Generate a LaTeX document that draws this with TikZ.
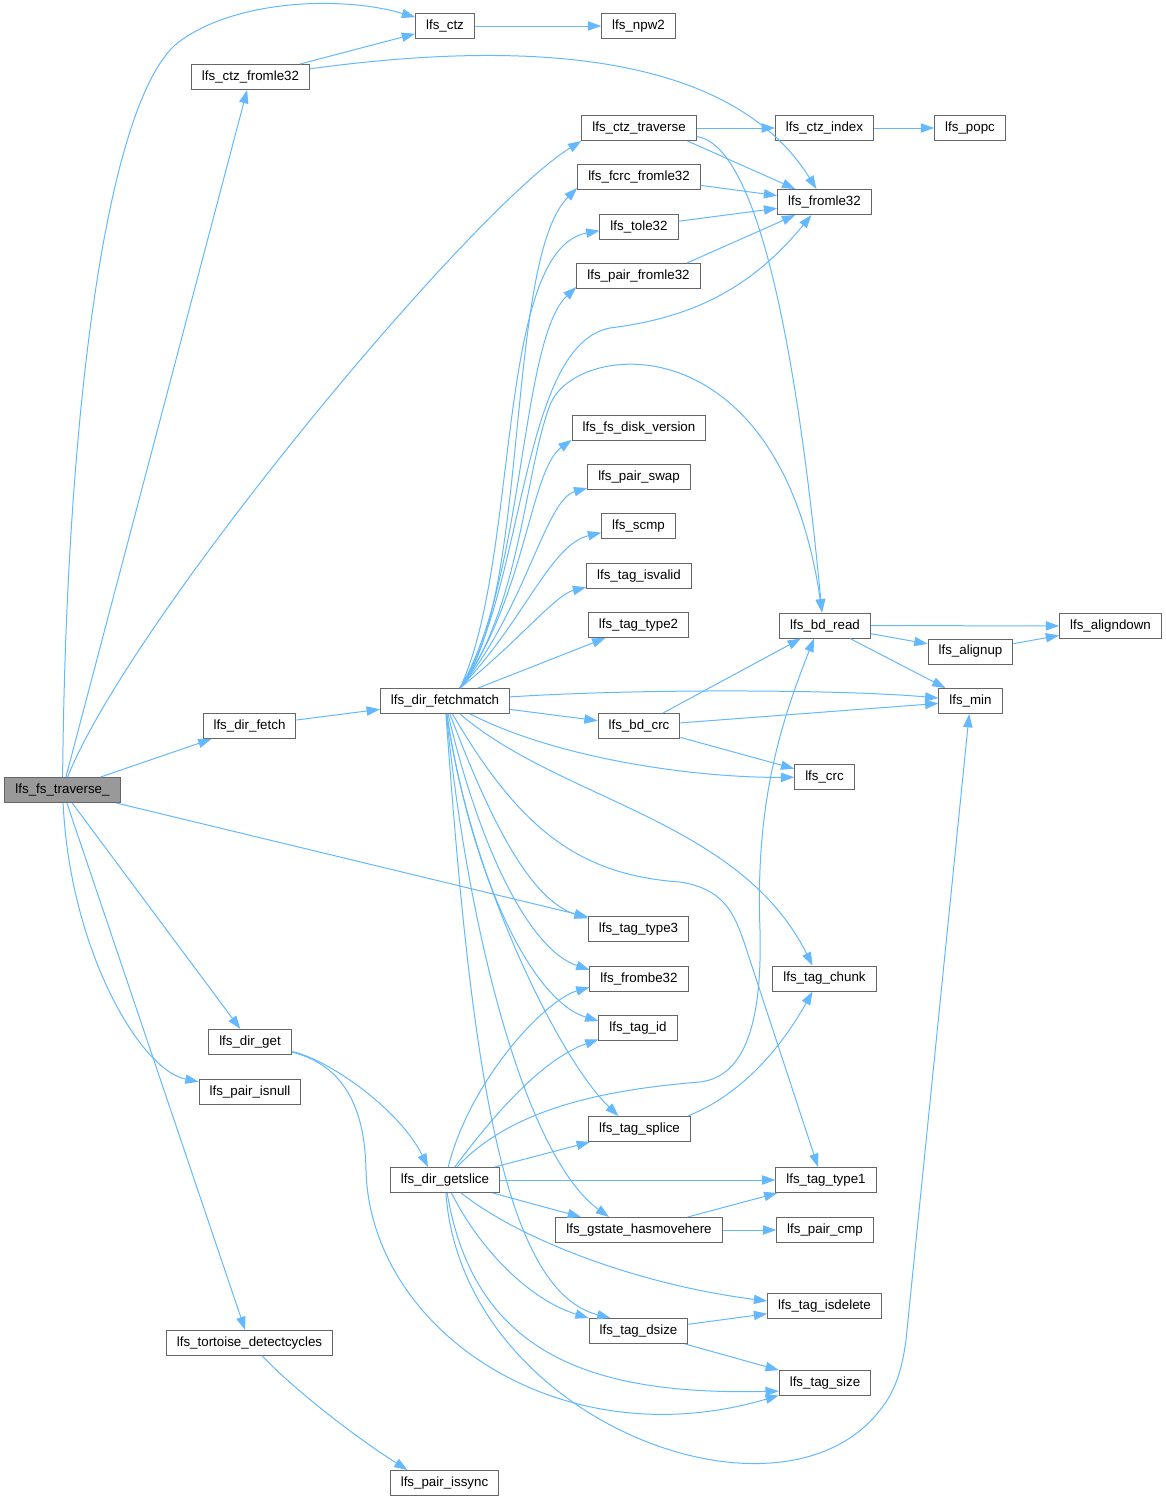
\documentclass[tikz,border=0pt]{standalone}
\usepackage{fontspec}
\setmainfont{Liberation Sans}
\usepackage{xcolor}
\usepackage{tikz}
\usetikzlibrary{arrows.meta}
\definecolor{edgeblue}{HTML}{63B8FF}
\definecolor{boxgray}{HTML}{666666}
\definecolor{rootgray}{HTML}{999999}

\begin{document}
\begin{tikzpicture}[x=1pt,y=-1pt,
	fn/.style={draw=boxgray,fill=white,line width=1pt,minimum height=25pt,inner xsep=10.5pt,inner ysep=0pt,font=\fontsize{13.33}{16}\selectfont},
	root/.style={fn,fill=rootgray},
	call/.style={draw=edgeblue,line width=1pt,-{Triangle[length=13.3pt,width=9.3pt]}}]
	\useasboundingbox (0,0) rectangle (1166,1502);
	\node[root] (trav) at (62.5,790) {lfs\_fs\_traverse\_};
	\node[fn] (ctz) at (445,26) {lfs\_ctz};
	\node[fn] (npw2) at (638.5,26) {lfs\_npw2};
	\node[fn] (ctzfrom) at (250.5,77) {lfs\_ctz\_fromle32};
	\node[fn] (ctztrav) at (639,128) {lfs\_ctz\_traverse};
	\node[fn] (ctzidx) at (824.5,128) {lfs\_ctz\_index};
	\node[fn] (popc) at (970,128) {lfs\_popc};
	\node[fn] (fcrc) at (639,177) {lfs\_fcrc\_fromle32};
	\node[fn] (fromle) at (824.5,202) {lfs\_fromle32};
	\node[fn] (tole) at (639,226.5) {lfs\_tole32};
	\node[fn] (pairfrom) at (638.5,276) {lfs\_pair\_fromle32};
	\node[fn] (diskver) at (639,428) {lfs\_fs\_disk\_version};
	\node[fn] (pairswap) at (639,477) {lfs\_pair\_swap};
	\node[fn] (scmp) at (638.5,526) {lfs\_scmp};
	\node[fn] (isvalid) at (639,576) {lfs\_tag\_isvalid};
	\node[fn] (type2) at (638.5,625) {lfs\_tag\_type2};
	\node[fn] (bdread) at (825,625.5) {lfs\_bd\_read};
	\node[fn] (aligndown) at (1110.5,626) {lfs\_aligndown};
	\node[fn] (alignup) at (970.5,651.5) {lfs\_alignup};
	\node[fn] (min) at (970.5,701) {lfs\_min};
	\node[fn] (fetchm) at (445,701) {lfs\_dir\_fetchmatch};
	\node[fn] (fetch) at (249.5,726) {lfs\_dir\_fetch};
	\node[fn] (bdcrc) at (639,726) {lfs\_bd\_crc};
	\node[fn] (crc) at (824.5,777) {lfs\_crc};
	\node[fn] (type3) at (638.5,929) {lfs\_tag\_type3};
	\node[fn] (frombe) at (639,978.5) {lfs\_frombe32};
	\node[fn] (chunk) at (824.5,978.5) {lfs\_tag\_chunk};
	\node[fn] (tagid) at (638,1028) {lfs\_tag\_id};
	\node[fn] (dirget) at (250,1042) {lfs\_dir\_get};
	\node[fn] (isnull) at (250,1092) {lfs\_pair\_isnull};
	\node[fn] (splice) at (639.5,1129) {lfs\_tag\_splice};
	\node[fn] (getslice) at (445,1180) {lfs\_dir\_getslice};
	\node[fn] (type1) at (826,1180) {lfs\_tag\_type1};
	\node[fn] (gstate) at (639,1230) {lfs\_gstate\_hasmovehere};
	\node[fn] (paircmp) at (825,1230) {lfs\_pair\_cmp};
	\node[fn] (isdelete) at (824.5,1306) {lfs\_tag\_isdelete};
	\node[fn] (dsize) at (638.5,1331) {lfs\_tag\_dsize};
	\node[fn] (tortoise) at (249.5,1343) {lfs\_tortoise\_detectcycles};
	\node[fn] (tagsize) at (825,1383) {lfs\_tag\_size};
	\node[fn] (issync) at (444.5,1483) {lfs\_pair\_issync};
	\draw[call] (trav) .. controls (66,420) and (105,110) .. (175,45) .. controls (230,0) and (340,-5) .. (ctz);
	\draw[call] (trav) -- (ctzfrom);
	\draw[call] (trav) .. controls (130,620) and (470,210) .. (ctztrav.south west);
	\draw[call] (trav) -- (fetch);
	\draw[call] (trav) -- (type3);
	\draw[call] (trav) -- (dirget);
	\draw[call] (trav) .. controls (70,950) and (140,1070) .. (isnull);
	\draw[call] (trav) -- (tortoise);
	\draw[call] (ctzfrom) -- (ctz);
	\draw[call] (ctzfrom) .. controls (520,40) and (730,50) .. (fromle);
	\draw[call] (ctz) -- (npw2);
	\draw[call] (ctztrav) -- (ctzidx);
	\draw[call] (ctzidx) -- (popc);
	\draw[call] (ctztrav.-15) -- (fromle);
	\draw[call] (ctztrav) .. controls (755,145) and (795,330) .. ([xshift=-3pt]bdread.north);
	\draw[call] (fcrc) -- (fromle);
	\draw[call] (tole) -- (fromle);
	\draw[call] (pairfrom.15) -- (fromle);
	\draw[call] (fetch) -- (fetchm);
	\draw[call] ([xshift=15pt]fetchm.north) .. controls (530,600) and (505,260) .. (fcrc.190);
	\draw[call] ([xshift=15pt]fetchm.north) .. controls (520,560) and (495,250) .. (tole.186);
	\draw[call] ([xshift=15pt]fetchm.north) .. controls (525,580) and (520,340) .. (pairfrom.190);
	\draw[call] ([xshift=15pt]fetchm.north) .. controls (525,590) and (520,345) .. (610,328) .. controls (690,318) and (750,290) .. ([xshift=-13pt]fromle.south);
	\draw[call] ([xshift=15pt]fetchm.north) .. controls (520,610) and (525,470) .. (550,405) .. controls (575,340) and (780,320) .. ([xshift=-3pt]bdread.north);
	\draw[call] ([xshift=15pt]fetchm.north) .. controls (525,600) and (530,470) .. (diskver.190);
	\draw[call] ([xshift=15pt]fetchm.north) .. controls (525,610) and (545,500) .. (pairswap.192);
	\draw[call] ([xshift=15pt]fetchm.north) .. controls (525,620) and (550,545) .. (scmp.190);
	\draw[call] ([xshift=15pt]fetchm.north) .. controls (520,640) and (555,595) .. (isvalid.192);
	\draw[call] (fetchm) -- (type2);
	\draw[call] (fetchm) .. controls (650,688) and (850,690) .. (min);
	\draw[call] (fetchm) -- (bdcrc);
	\draw[call] (fetchm) .. controls (560,760) and (700,778) .. (crc);
	\draw[call] (fetchm) .. controls (560,800) and (740,820) .. ([xshift=-12pt]chunk.north);
	\draw[call] (fetchm) .. controls (520,830) and (580,875) .. (680,882) .. controls (725,889) and (735,915) .. (745,945) -- ([xshift=-8pt]type1.north);
	\draw[call] (fetchm) .. controls (490,820) and (530,900) .. (type3.168);
	\draw[call] (fetchm) .. controls (480,850) and (530,950) .. (frombe.170);
	\draw[call] (fetchm) .. controls (470,870) and (530,1000) .. (tagid.170);
	\draw[call] (fetchm) .. controls (470,880) and (560,1060) .. ([xshift=-21pt]splice.north);
	\draw[call] (fetchm) .. controls (470,950) and (530,1160) .. ([xshift=-30pt]gstate.north);
	\draw[call] (fetchm) .. controls (470,1050) and (500,1290) .. ([xshift=-28pt]dsize.north);
	\draw[call] (bdread) -- (aligndown);
	\draw[call] (bdread) -- (alignup);
	\draw[call] (bdread) -- (min);
	\draw[call] (alignup) -- (aligndown);
	\draw[call] (bdcrc) -- (bdread);
	\draw[call] (bdcrc) -- (min);
	\draw[call] (bdcrc) -- (crc);
	\draw[call] (dirget) .. controls (330,1060) and (400,1110) .. ([xshift=-17pt]getslice.north);
	\draw[call] (dirget) .. controls (345,1065) and (365,1110) .. (366,1170) .. controls (370,1330) and (560,1460) .. (tagsize.195);
	\draw[call] (getslice) .. controls (510,1110) and (600,1090) .. (700,1082) .. controls (750,1076) and (762,1010) .. (760,930) .. controls (755,800) and (782,720) .. ([xshift=-11pt]bdread.south);
	\draw[call] (getslice) .. controls (470,1080) and (545,1000) .. (frombe.190);
	\draw[call] (getslice) .. controls (490,1120) and (540,1060) .. (tagid.196);
	\draw[call] (getslice) -- (splice);
	\draw[call] (getslice) -- (type1);
	\draw[call] (getslice) -- ([xshift=-58pt]gstate.north);
	\draw[call] (getslice) .. controls (520,1240) and (640,1285) .. (isdelete.175);
	\draw[call] (getslice) .. controls (480,1250) and (530,1300) .. (dsize.north west);
	\draw[call] (getslice) .. controls (475,1360) and (600,1395) .. (tagsize.190);
	\draw[call] (getslice) .. controls (462,1420) and (780,1540) .. (880,1410) .. controls (895,1392) and (902,1370) .. (906,1340) -- (min);
	\draw[call] ([xshift=-3pt]splice.north east) .. controls (740,1095) and (780,1050) .. ([xshift=-12pt]chunk.south);
	\draw[call] (gstate) -- (type1);
	\draw[call] (gstate) -- (paircmp);
	\draw[call] (dsize) -- (isdelete);
	\draw[call] (dsize) -- (tagsize);
	\draw[call] (tortoise) .. controls (300,1395) and (360,1440) .. ([xshift=-37pt]issync.north);
\end{tikzpicture}
\end{document}
